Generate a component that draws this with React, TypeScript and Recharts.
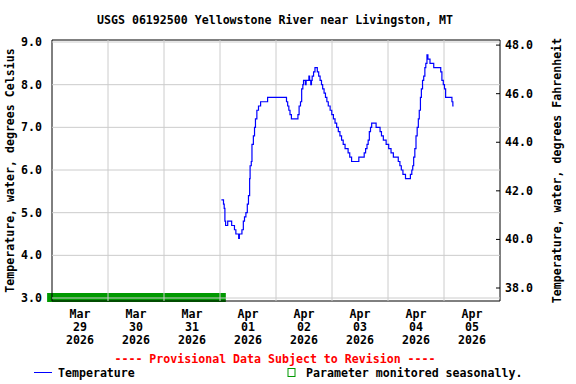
import React from 'react';
import { ComposedChart, Line, XAxis, YAxis, ReferenceLine, ReferenceArea } from 'recharts';

// hours since 2026-03-29 00:00 at which the reading changes, and the reading (°C)
const hours = [
  72.6, 73.5, 73.8, 74.1, 74.4, 75.3, 77.0, 78.2, 78.8, 80.0, 80.3, 81.4, 82.0, 82.5, 83.1, 83.7, 84.2, 84.7, 84.9, 85.4,
  85.7, 86.3, 86.8, 87.2, 87.8, 88.5, 89.4, 92.4, 100.5, 101.0, 101.5, 102.0, 102.6, 105.4, 105.9, 106.5, 107.0, 107.5, 107.8, 108.6,
  108.9, 110.1, 110.4, 110.9, 111.2, 111.5, 112.1, 112.7, 113.7, 114.3, 114.9, 115.5, 116.0, 116.6, 117.2, 117.8, 118.4, 119.2, 119.9, 120.6,
  121.3, 122.0, 122.7, 123.4, 124.1, 124.8, 125.6, 126.9, 127.6, 128.4, 131.5, 133.8, 134.4, 135.0, 135.5, 136.0, 136.5, 137.0, 138.9, 140.6,
  141.2, 142.0, 143.2, 144.3, 145.3, 146.3, 148.4, 149.1, 149.7, 150.4, 151.5, 153.6, 154.2, 154.6, 155.0, 155.5, 156.0, 156.5, 157.0, 157.4,
  157.9, 158.3, 158.8, 159.3, 159.8, 160.2, 160.7, 161.1, 162.0, 163.6, 166.6, 167.1, 167.7, 168.2, 168.7, 171.4, 171.8, 172.1,
];
const tempC = [
  5.3, 5.2, 5.1, 4.8, 4.7, 4.8, 4.7, 4.6, 4.5, 4.4, 4.5, 4.6, 4.8, 4.9, 5.0, 5.2, 5.4, 5.8, 6.1, 6.2,
  6.6, 6.8, 7.0, 7.2, 7.4, 7.5, 7.6, 7.7, 7.6, 7.5, 7.4, 7.3, 7.2, 7.3, 7.5, 7.6, 7.9, 8.0, 8.1, 8.0,
  8.1, 8.2, 8.1, 8.0, 8.1, 8.2, 8.3, 8.4, 8.3, 8.2, 8.1, 8.0, 7.9, 7.8, 7.7, 7.6, 7.5, 7.4, 7.3, 7.2,
  7.1, 7.0, 6.9, 6.8, 6.7, 6.6, 6.5, 6.4, 6.3, 6.2, 6.3, 6.4, 6.5, 6.6, 6.7, 6.9, 7.0, 7.1, 7.0, 6.9,
  6.8, 6.7, 6.6, 6.5, 6.4, 6.3, 6.2, 6.1, 6.0, 5.9, 5.8, 5.9, 6.0, 6.1, 6.3, 6.5, 6.8, 7.0, 7.2, 7.4,
  7.7, 7.9, 8.1, 8.2, 8.4, 8.5, 8.7, 8.6, 8.5, 8.4, 8.3, 8.1, 8.0, 7.9, 7.7, 7.6, 7.5, 7.5,
];

const dayCenters = [12, 36, 60, 84, 108, 132, 156, 180];
const dayMonths = ['Mar', 'Mar', 'Mar', 'Apr', 'Apr', 'Apr', 'Apr', 'Apr'];
const dayNumbers = ['29', '30', '31', '01', '02', '03', '04', '05'];
const dayYears = ['2026', '2026', '2026', '2026', '2026', '2026', '2026', '2026'];
const midnights = [24, 48, 72, 96, 120, 144, 168];
const celsiusTicks = [3, 4, 5, 6, 7, 8, 9];
const fahrenheitTicks = [38, 40, 42, 44, 46, 48];
const seasonalStart = -2.1;
const seasonalEnd = 74.5;

const TITLE = 'USGS 06192500 Yellowstone River near Livingston, MT';
const PROVISIONAL = '---- Provisional Data Subject to Revision ----';
const LEFT_LABEL = 'Temperature, water, degrees Celsius';
const RIGHT_LABEL = 'Temperature, water, degrees Fahrenheit';
const SERIES_NAME = 'Temperature';
const SEASONAL_NAME = 'Parameter monitored seasonally.';

const C_DOMAIN: [number, number] = [2.93, 9.047];
const F_DOMAIN: [number, number] = [37.465, 48.21];

const data = hours.map((h, i) => ({ h, c: tempC[i] }));

const FONT = "'DejaVu Sans Mono', monospace";
const FS = 11.6;

const XTick = (props: any) => {
  const { x, y, payload } = props;
  const i = dayCenters.indexOf(payload.value);
  if (i < 0) return null;
  return (
    <text x={x} y={y} textAnchor="middle" fontFamily={FONT} fontWeight="bold" fontSize={FS} fill="#000">
      <tspan x={x} y={y + 16.5}>{dayMonths[i]}</tspan>
      <tspan x={x} y={y + 29.8}>{dayNumbers[i]}</tspan>
      <tspan x={x} y={y + 43}>{dayYears[i]}</tspan>
    </text>
  );
};

const RightTick = (props: any) => {
  const { x, y, payload } = props;
  return (
    <g>
      <line x1={x - 4} x2={x} y1={y} y2={y} stroke="#000" strokeWidth={1} />
      <text x={x + 5} y={y + 4} textAnchor="start" fontFamily={FONT} fontWeight="bold" fontSize={FS} fill="#000">
        {Number(payload.value).toFixed(1)}
      </text>
    </g>
  );
};

const LeftTick = (props: any) => {
  const { x, y, payload } = props;
  return (
    <text x={x} y={y + 4} textAnchor="end" fontFamily={FONT} fontWeight="bold" fontSize={FS} fill="#000">
      {Number(payload.value).toFixed(1)}
    </text>
  );
};

export default function App() {
  const textProps = { fontFamily: FONT, fontWeight: 'bold' as const, fontSize: FS };
  return (
    <div style={{ position: 'absolute', left: 0, top: 0, width: 576, height: 384, background: '#fff' }}>
      <ComposedChart width={576} height={384} data={data} margin={{ top: 40, right: 0, bottom: 0, left: 0 }}>
        <XAxis
          dataKey="h"
          type="number"
          domain={[0, 192]}
          ticks={dayCenters}
          interval={0}
          allowDataOverflow
          axisLine={false}
          tickLine={false}
          tickSize={0}
          tickMargin={0}
          height={83}
          tick={<XTick />}
        />
        <YAxis
          yAxisId="c"
          type="number"
          domain={C_DOMAIN}
          ticks={celsiusTicks}
          allowDataOverflow
          axisLine={false}
          tickLine={false}
          tickSize={0}
          tickMargin={10}
          width={52}
          tick={<LeftTick />}
        />
        <YAxis
          yAxisId="f"
          orientation="right"
          type="number"
          domain={F_DOMAIN}
          ticks={fahrenheitTicks}
          allowDataOverflow
          axisLine={false}
          tickLine={false}
          tickSize={0}
          tickMargin={0}
          width={76}
          tick={<RightTick />}
        />
        {celsiusTicks.map((v) => (
          <ReferenceLine key={'h' + v} yAxisId="c" y={v} stroke="#cccccc" strokeWidth={1} />
        ))}
        {midnights.map((m) => (
          <ReferenceLine key={'v' + m} yAxisId="c" x={m} stroke="#cccccc" strokeWidth={1} />
        ))}
        <ReferenceArea
          yAxisId="c"
          x1={seasonalStart}
          x2={seasonalEnd}
          y1={2.907}
          y2={3.118}
          fill="#009900"
          fillOpacity={1}
          stroke="none"
          ifOverflow="visible"
        />
        <ReferenceArea
          yAxisId="c"
          x1={0}
          x2={192}
          y1={C_DOMAIN[0]}
          y2={C_DOMAIN[1]}
          fill="none"
          stroke="#000"
          strokeWidth={1}
          ifOverflow="visible"
        />
        <Line
          yAxisId="c"
          dataKey="c"
          type="stepAfter"
          stroke="#0000ff"
          strokeWidth={1.2}
          dot={false}
          activeDot={false}
          isAnimationActive={false}
        />
      </ComposedChart>
      <svg
        width={576}
        height={384}
        style={{ position: 'absolute', left: 0, top: 0, pointerEvents: 'none' }}
      >
        <text x={275} y={23.7} textAnchor="middle" fill="#000" {...textProps}>{TITLE}</text>
        <text x={14} y={170.5} textAnchor="middle" fill="#000" transform="rotate(-90 14 170.5)" {...textProps}>
          {LEFT_LABEL}
        </text>
        <text x={561} y={170.5} textAnchor="middle" fill="#000" transform="rotate(-90 561 170.5)" {...textProps}>
          {RIGHT_LABEL}
        </text>
        <text x={275} y={363} textAnchor="middle" fill="#ff0000" {...textProps}>{PROVISIONAL}</text>
        <line x1={34} x2={52} y1={372.5} y2={372.5} stroke="#0000ff" strokeWidth={1} />
        <text x={58} y={376.5} fill="#000" {...textProps}>{SERIES_NAME}</text>
        <rect x={288} y={368.5} width={7} height={8} fill="none" stroke="#009900" strokeWidth={1} />
        <text x={306} y={376.5} fill="#000" {...textProps}>{SEASONAL_NAME}</text>
      </svg>
    </div>
  );
}
